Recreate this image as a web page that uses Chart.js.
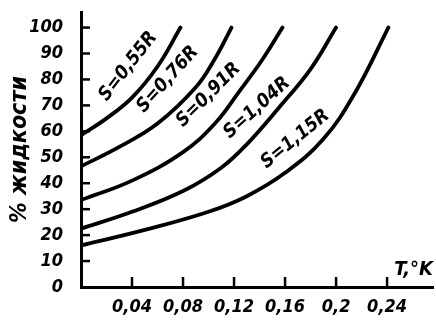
<!DOCTYPE html>
<html>
<head>
<meta charset="utf-8">
<script src="https://cdn.jsdelivr.net/npm/chart.js@4"></script>
<style>
  html, body { margin: 0; padding: 0; background: #fff; }
  #wrap { width: 436px; height: 321px; }
</style>
</head>
<body>
<div id="wrap"><canvas id="myChart"></canvas></div>
<script>
// values: T (°K) and % liquid for every curve
const names = ['S=0,55R', 'S=0,76R', 'S=0,91R', 'S=1,04R', 'S=1,15R'];

const t055 = [0, 0.02, 0.04, 0.06, 0.078];
const v055 = [58.5, 65, 73, 85, 100];

const t076 = [0, 0.03, 0.06, 0.09, 0.105, 0.118];
const v076 = [46.5, 54, 63, 77, 88, 100];

const t091 = [0, 0.04, 0.08, 0.105, 0.125, 0.142, 0.158];
const v091 = [33.5, 41, 52, 63, 76, 87.5, 100];

const t104 = [0, 0.04, 0.08, 0.11, 0.13, 0.155, 0.18, 0.2];
const v104 = [22.5, 29, 37, 46, 55, 69, 84, 100];

const t115 = [0, 0.05, 0.1, 0.13, 0.16, 0.19, 0.215, 0.241];
const v115 = [16, 22, 29, 35, 44, 57, 75, 100];

const yTicks = [0, 10, 20, 30, 40, 50, 60, 70, 80, 90, 100];
const xTicks = [0.04, 0.08, 0.12, 0.16, 0.2, 0.24];

const FONT = "'Liberation Sans Narrow', 'DejaVu Sans Condensed', sans-serif";

function pts(t, v) {
  return t.map((x, i) => ({x: x, y: v[i]}));
}

const series = [[t055, v055], [t076, v076], [t091, v091], [t104, v104], [t115, v115]];

// where the curve names sit (T, %, angle in degrees)
const labelSpots = [
  [0.037, 85, -52],
  [0.068, 80, -48],
  [0.1, 74, -45],
  [0.138, 69, -42],
  [0.168, 57, -39]
];

const marks = {
  id: 'marks',
  afterDatasetsDraw(chart) {
    const ctx = chart.ctx;
    const x = chart.scales.x;
    const y = chart.scales.y;
    ctx.save();
    ctx.strokeStyle = '#000';
    ctx.lineWidth = 2.5;
    // short ticks pointing into the plot
    yTicks.slice(1).forEach(v => {
      const py = y.getPixelForValue(v);
      ctx.beginPath();
      ctx.moveTo(x.left, py);
      ctx.lineTo(x.left + 9, py);
      ctx.stroke();
    });
    xTicks.forEach(v => {
      const px = x.getPixelForValue(v);
      ctx.beginPath();
      ctx.moveTo(px, y.bottom);
      ctx.lineTo(px, y.bottom - 10);
      ctx.stroke();
    });

    ctx.fillStyle = '#000';
    ctx.font = "italic bold 19px " + FONT;
    ctx.textAlign = 'center';
    ctx.textBaseline = 'middle';
    names.forEach((n, i) => {
      const s = labelSpots[i];
      ctx.save();
      ctx.translate(x.getPixelForValue(s[0]), y.getPixelForValue(s[1]));
      ctx.rotate(s[2] * Math.PI / 180);
      ctx.fillText(n, 0, 0);
      ctx.restore();
    });

    ctx.font = "italic bold 20px " + FONT;
    ctx.textAlign = 'right';
    ctx.textBaseline = 'alphabetic';
    ctx.fillText('T,°K', x.right, y.bottom - 12);
    ctx.restore();
  }
};

const ctx1 = document.getElementById('myChart');
const chart1 = new Chart(ctx1, {
  type: 'line',
  data: {
    datasets: series.map((s, i) => ({
      label: names[i],
      data: pts(s[0], s[1]),
      borderColor: '#000',
      borderWidth: 3.8,
      borderCapStyle: 'round',
      pointRadius: 0,
      tension: 0.4,
      fill: false
    }))
  },
  options: {
    responsive: true,
    maintainAspectRatio: false,
    animation: false,
    layout: {padding: {left: 0, right: 3, top: 12, bottom: 0}},
    plugins: {legend: {display: false}, tooltip: {enabled: false}},
    scales: {
      x: {
        type: 'linear',
        min: 0,
        max: 0.276,
        afterBuildTicks: s => { s.ticks = xTicks.map(v => ({value: v})); },
        afterFit: s => { s.height = 34; s.paddingLeft = 0; s.paddingRight = 0; },
        grid: {display: false, drawTicks: false},
        border: {display: true, color: '#000', width: 3},
        ticks: {
          padding: 10,
          color: '#000',
          maxRotation: 0,
          font: {family: FONT, size: 18, style: 'italic', weight: 'bold'},
          callback: v => String(Math.round(v * 100) / 100).replace('.', ',')
        }
      },
      y: {
        type: 'linear',
        min: 0,
        max: 106,
        afterBuildTicks: s => { s.ticks = yTicks.map(v => ({value: v})); },
        afterFit: s => { s.width = 81; s.paddingTop = 0; s.paddingBottom = 0; },
        grid: {display: false, drawTicks: false},
        border: {display: true, color: '#000', width: 3},
        title: {
          display: true,
          text: '% жидкости',
          color: '#000',
          padding: {top: 6, bottom: 0},
          font: {family: FONT, size: 23, style: 'italic', weight: 'bold'}
        },
        ticks: {
          padding: 18,
          color: '#000',
          font: {family: FONT, size: 18, style: 'italic', weight: 'bold'}
        }
      }
    }
  },
  plugins: [marks]
});
</script>
</body>
</html>
